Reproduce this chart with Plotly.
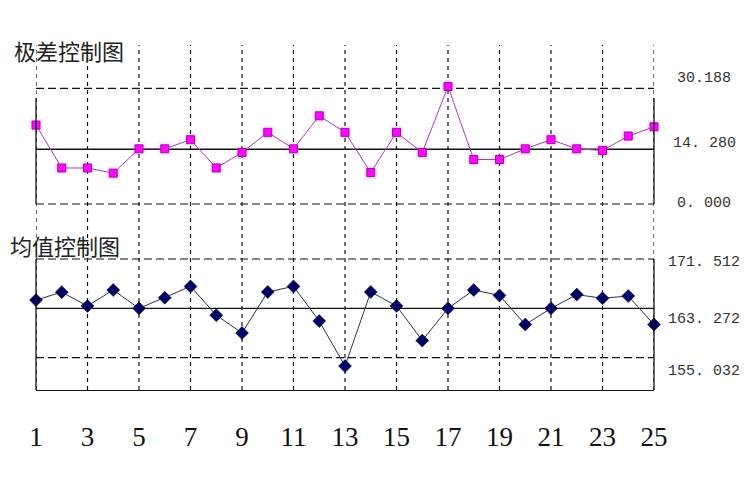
import plotly.graph_objects as go
from plotly.subplots import make_subplots

# ---- data ----
samples = list(range(1, 26))
x_ticks = [1, 3, 5, 7, 9, 11, 13, 15, 17, 19, 21, 23, 25]
x_tick_labels = [str(v) for v in x_ticks]

range_values = [20.60, 9.40, 9.40, 8.05, 14.40, 14.40, 16.78, 9.40, 13.43, 18.70,
                14.40, 23.01, 18.70, 8.22, 18.70, 13.43, 30.65, 11.60, 11.60, 14.40,
                16.78, 14.40, 13.97, 17.73, 20.14]
range_limits = [30.188, 14.280, 0.000]          # UCL, CL, LCL
range_limit_labels = ["30.188", "14. 280", "0. 000"]

mean_values = [164.65, 165.98, 163.68, 166.33, 163.27, 165.06, 166.94, 162.14, 159.16, 166.02,
               166.94, 161.14, 153.63, 166.02, 163.68, 157.89, 163.27, 166.33, 165.43, 160.57,
               163.27, 165.57, 164.96, 165.33, 160.57]
mean_limits = [171.512, 163.272, 155.032]        # UCL, CL, LCL
mean_limit_labels = ["171. 512", "163. 272", "155. 032"]

titles = ["极差控制图", "均值控制图"]

# ---- figure ----
fig = make_subplots(rows=2, cols=1, shared_xaxes=True, vertical_spacing=0)

def add_limits(row, limits):
    for i, v in enumerate(limits):
        fig.add_trace(go.Scatter(
            x=[samples[0], samples[-1]], y=[v, v], mode="lines",
            line=dict(color="#111111", width=1.2 if i != 1 else 1.3,
                      dash="solid" if i == 1 else "8px,4px"),
            hoverinfo="skip", showlegend=False, cliponaxis=False), row=row, col=1)

add_limits(1, range_limits)
add_limits(2, mean_limits)

# range chart series (glow + markers)
fig.add_trace(go.Scatter(
    x=samples, y=range_values, mode="markers",
    marker=dict(symbol="square", size=13, color="rgba(255,120,255,0.18)", line=dict(width=0)),
    hoverinfo="skip", showlegend=False, cliponaxis=False), row=1, col=1)
fig.add_trace(go.Scatter(
    x=samples, y=range_values, mode="lines+markers",
    line=dict(color="#A040A8", width=1),
    marker=dict(symbol="square", size=8, color="#F010F0", line=dict(color="#B000B8", width=1)),
    showlegend=False, cliponaxis=False), row=1, col=1)

# mean chart series
fig.add_trace(go.Scatter(
    x=samples, y=mean_values, mode="lines+markers",
    line=dict(color="#30304A", width=1),
    marker=dict(symbol="diamond", size=10, color="#000060", line=dict(color="#000040", width=0.5)),
    showlegend=False, cliponaxis=False), row=2, col=1)

# vertical dashed grid across both panels
for xv in x_ticks:
    fig.add_shape(type="line", xref="x", yref="paper", x0=xv, x1=xv, y0=0, y1=1,
                  line=dict(color="#111111", width=1.2, dash="4px,4px"), layer="below")

# panel frames
top_rng = [-4.175, 41.486]
bot_rng = [149.639, 178.024]
frame_top_range = 27.66
for xd in (0, 1):
    fig.add_shape(type="line", xref="x domain", yref="y", x0=xd, x1=xd,
                  y0=range_limits[2], y1=frame_top_range, line=dict(color="#111111", width=1.3))
    fig.add_shape(type="line", xref="x2 domain", yref="y2", x0=xd, x1=xd,
                  y0=bot_rng[0], y1=mean_limits[0], line=dict(color="#111111", width=1.3))

# right-side limit labels
shifts_top = [10, 6, 1]
shifts_bot = [-3, -11, -14]
for v, t, s in zip(range_limits, range_limit_labels, shifts_top):
    fig.add_annotation(xref="paper", yref="y", x=1, y=v, text=t, showarrow=False,
                       xanchor="center", yanchor="middle", xshift=50, yshift=s,
                       font=dict(family="Liberation Mono", size=15, color="#333333"))
for v, t, s in zip(mean_limits, mean_limit_labels, shifts_bot):
    fig.add_annotation(xref="paper", yref="y2", x=1, y=v, text=t, showarrow=False,
                       xanchor="center", yanchor="middle", xshift=50, yshift=s,
                       font=dict(family="Liberation Mono", size=15, color="#333333"))

# panel titles
fig.add_annotation(xref="paper", yref="paper", x=0, y=0.9855, text=titles[0], showarrow=False,
                   xanchor="left", yanchor="middle", xshift=-24,
                   font=dict(family="Noto Sans CJK SC", size=22, color="#222222"))
fig.add_annotation(xref="paper", yref="paper", x=0, y=0.4203, text=titles[1], showarrow=False,
                   xanchor="left", yanchor="middle", xshift=-28,
                   font=dict(family="Noto Sans CJK SC", size=22, color="#222222"))

fig.update_xaxes(range=[samples[0], samples[-1]], showgrid=False, zeroline=False,
                 tickvals=x_ticks, ticktext=x_tick_labels, ticks="")
fig.update_xaxes(showticklabels=False, showline=False, row=1, col=1)
fig.update_xaxes(showticklabels=True, showline=True, linecolor="#111111", linewidth=1.3,
                 tickfont=dict(family="Liberation Serif", size=27, color="#111111"),
                 ticklabelstandoff=22, row=2, col=1)
fig.update_yaxes(showgrid=False, zeroline=False, showticklabels=False, ticks="")
fig.update_yaxes(range=top_rng, domain=[0.49275, 1.0], row=1, col=1)
fig.update_yaxes(range=bot_rng, domain=[0.0, 0.49275], row=2, col=1)

# page body has an 8px margin, so margins are offset to place the plot area like the reference
fig.update_layout(width=750, height=480, margin=dict(l=28, r=104, t=37, b=98),
                  paper_bgcolor="white", plot_bgcolor="white")

fig.write_html("out.html")
